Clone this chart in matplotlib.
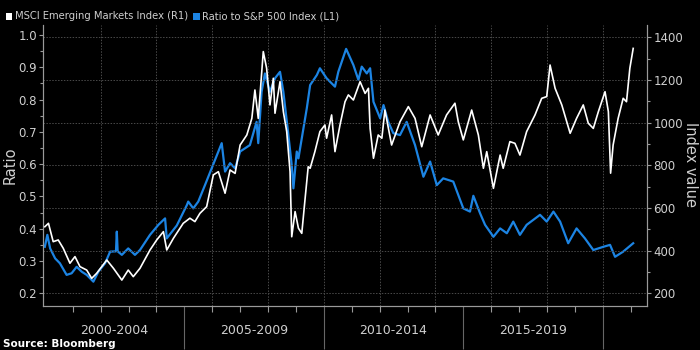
import numpy as np
import matplotlib
matplotlib.use('Agg')
import matplotlib.pyplot as plt
import matplotlib.transforms as mtransforms
from matplotlib.ticker import MultipleLocator, FormatStrFormatter

# ratio of MSCI EM to S&P 500 (left axis), decimal years
ratio_years = [2000.0, 2000.09, 2000.19, 2000.37, 2000.54, 2000.78, 2000.96, 2001.14, 2001.32, 2001.5,
               2001.74, 2001.92, 2002.16, 2002.34, 2002.55, 2002.58, 2002.61, 2002.76, 2002.99, 2003.23,
               2003.41, 2003.77, 2004.07, 2004.31, 2004.37, 2004.73, 2005.09, 2005.14, 2005.32, 2005.5,
               2005.74, 2006.1, 2006.34, 2006.46, 2006.64, 2006.82, 2007.0, 2007.35, 2007.59, 2007.65,
               2007.77, 2007.89, 2008.07, 2008.25, 2008.43, 2008.55, 2008.73, 2008.85, 2008.91, 2009.03,
               2009.09, 2009.27, 2009.39, 2009.51, 2009.75, 2009.86, 2010.1, 2010.4, 2010.52, 2010.8,
               2011.06, 2011.24, 2011.36, 2011.54, 2011.66, 2011.78, 2012.02, 2012.14, 2012.31, 2012.49,
               2012.73, 2012.97, 2013.27, 2013.57, 2013.81, 2014.05, 2014.28, 2014.64, 2015.0, 2015.24,
               2015.36, 2015.6, 2015.78, 2016.08, 2016.32, 2016.56, 2016.79, 2017.03, 2017.27, 2017.75,
               2017.99, 2018.23, 2018.47, 2018.76, 2019.06, 2019.36, 2019.66, 2020.02, 2020.26, 2020.44,
               2020.73, 2021.09]
ratio_vals = [0.344, 0.381, 0.339, 0.308, 0.293, 0.257, 0.262, 0.282, 0.267, 0.257,
              0.236, 0.267, 0.293, 0.329, 0.33, 0.391, 0.33, 0.319, 0.339, 0.319,
              0.334, 0.381, 0.412, 0.432, 0.37, 0.41, 0.473, 0.484, 0.463, 0.484,
              0.535, 0.613, 0.665, 0.577, 0.603, 0.587, 0.639, 0.659, 0.731, 0.665,
              0.824, 0.881, 0.824, 0.866, 0.886, 0.824, 0.69, 0.597, 0.525, 0.639,
              0.618, 0.711, 0.773, 0.845, 0.876, 0.897, 0.866, 0.84, 0.886, 0.957,
              0.907, 0.861, 0.902, 0.881, 0.897, 0.793, 0.742, 0.783, 0.731, 0.696,
              0.69, 0.731, 0.659, 0.561, 0.608, 0.535, 0.556, 0.546, 0.463, 0.453,
              0.502, 0.448, 0.412, 0.375, 0.401, 0.386, 0.422, 0.381, 0.412, 0.443,
              0.422, 0.453, 0.422, 0.355, 0.401, 0.37, 0.334, 0.344, 0.35, 0.313,
              0.329, 0.355]

# MSCI Emerging Markets Index level (right axis)
msci_years = [2000.0, 2000.13, 2000.3, 2000.48, 2000.66, 2000.9, 2001.08, 2001.26, 2001.5, 2001.68,
              2001.86, 2002.22, 2002.46, 2002.76, 2002.99, 2003.17, 2003.41, 2003.77, 2004.01, 2004.25,
              2004.37, 2004.61, 2004.96, 2005.2, 2005.38, 2005.56, 2005.8, 2006.04, 2006.22, 2006.46,
              2006.64, 2006.82, 2007.0, 2007.24, 2007.42, 2007.53, 2007.65, 2007.83, 2007.95, 2008.07,
              2008.19, 2008.25, 2008.43, 2008.55, 2008.67, 2008.79, 2008.85, 2008.97, 2009.09, 2009.21,
              2009.33, 2009.44, 2009.51, 2009.68, 2009.86, 2010.04, 2010.1, 2010.28, 2010.4, 2010.58,
              2010.76, 2010.88, 2011.06, 2011.3, 2011.48, 2011.6, 2011.66, 2011.78, 2011.95, 2012.08,
              2012.19, 2012.43, 2012.73, 2013.03, 2013.27, 2013.51, 2013.81, 2014.1, 2014.4, 2014.7,
              2014.82, 2015.0, 2015.3, 2015.54, 2015.72, 2015.84, 2016.08, 2016.2, 2016.32, 2016.43,
              2016.67, 2016.85, 2017.03, 2017.27, 2017.57, 2017.81, 2017.99, 2018.11, 2018.29, 2018.53,
              2018.83, 2019.06, 2019.3, 2019.48, 2019.66, 2019.84, 2020.08, 2020.2, 2020.28, 2020.37,
              2020.55, 2020.73, 2020.85, 2020.97, 2021.09]
msci_vals = [512, 528, 442, 450, 411, 341, 372, 325, 309, 270,
             294, 356, 317, 262, 309, 278, 317, 403, 450, 489,
             403, 458, 528, 552, 536, 575, 606, 755, 770, 669,
             778, 762, 895, 942, 1020, 1153, 1020, 1333, 1255, 1083,
             1208, 1044, 1192, 1051, 958, 770, 465, 583, 505, 481,
             645, 793, 786, 864, 958, 989, 927, 1036, 864, 989,
             1098, 1130, 1106, 1192, 1137, 1161, 973, 833, 942, 927,
             1059, 895, 1004, 1075, 1020, 887, 1036, 942, 1036, 1091,
             1004, 919, 1059, 942, 786, 864, 692, 770, 848, 786,
             911, 903, 848, 958, 1036, 1114, 1122, 1270, 1161, 1083,
             950, 1020, 1083, 997, 973, 1051, 1145, 1051, 763, 895,
             1020, 1114, 1098, 1255, 1348]

period_labels = ['2000-2004', '2005-2009', '2010-2014', '2015-2019']
period_starts = [2000, 2005, 2010, 2015]

BLUE = '#1c84e3'
TXT = '#cfcfcf'
GRID = '#4a4a4a'
SPINE = '#9a9a9a'

plt.rcParams['font.family'] = 'DejaVu Sans'

fig = plt.figure(figsize=(7, 3.5), dpi=100, facecolor='black')
ax = fig.add_axes([0.0619, 0.1266, 0.8628, 0.802])
ax2 = ax.twinx()
ax.set_facecolor('black')

ax.plot(ratio_years, ratio_vals, color=BLUE, lw=1.6, zorder=3)
ax2.plot(msci_years, msci_vals, color='white', lw=1.2, zorder=3)

ax.set_xlim(1999.946, 2021.595)
ax.set_ylim(0.1616, 1.031)
ax2.set_ylim(141.9, 1457.7)

ax.yaxis.set_major_locator(MultipleLocator(0.1))
ax.yaxis.set_minor_locator(MultipleLocator(0.05))
ax.yaxis.set_major_formatter(FormatStrFormatter('%.1f'))
ax2.yaxis.set_major_locator(MultipleLocator(200))
ax2.yaxis.set_minor_locator(MultipleLocator(100))

# bottom: separators every 5 years, small ticks each year
ax.set_xticks([2005, 2010, 2015, 2020])
ax.set_xticks(range(2001, 2022), minor=True)
ax.tick_params(axis='x', which='major', length=31, width=0.8, color='#666666', labelbottom=False)
ax.tick_params(axis='x', which='minor', length=4, width=0.8, color=SPINE)

for a in (ax, ax2):
    a.tick_params(axis='y', which='major', length=3, width=0.8, color=SPINE, labelcolor=TXT, labelsize=8.5, pad=1.5)
    a.tick_params(axis='y', which='minor', length=2, width=0.8, color=SPINE)
    a.spines['top'].set_visible(False)
    for side in ('left', 'right', 'bottom'):
        a.spines[side].set_color(SPINE)
        a.spines[side].set_linewidth(0.8)

# grid: dotted, horizontal at the right-axis ticks, vertical every 2 years
ax2.grid(axis='y', which='major', color=GRID, linestyle=(0, (1.5, 1.5)), lw=0.7)
for yr in range(2002, 2021, 2):
    ax.axvline(yr, color=GRID, linestyle=(0, (1.5, 1.5)), lw=0.7, zorder=0)

trans = mtransforms.blended_transform_factory(ax.transData, ax.transAxes)
for start, lab in zip(period_starts, period_labels):
    ax.text(start + 2.5, -0.087, lab, transform=trans, ha='center', va='center',
            color=TXT, fontsize=9)

fig.text(10 / 700, 1 - 165 / 350, 'Ratio', color=TXT, fontsize=10.5, rotation=90, ha='center', va='center')
fig.text(690 / 700, 1 - 165 / 350, 'Index value', color=TXT, fontsize=10.5, rotation=270, ha='center', va='center')

# legend
fig.patches.append(plt.Rectangle((0.008, 0.943), 0.0095, 0.019, transform=fig.transFigure,
                                 facecolor='white', edgecolor='none'))
fig.text(0.021, 0.953, 'MSCI Emerging Markets Index (R1)', color=TXT, fontsize=7.2, va='center')
fig.patches.append(plt.Rectangle((0.276, 0.943), 0.0095, 0.019, transform=fig.transFigure,
                                 facecolor=BLUE, edgecolor='none'))
fig.text(0.289, 0.953, 'Ratio to S&P 500 Index (L1)', color=TXT, fontsize=7.2, va='center')

fig.text(0.004, 0.018, 'Source: Bloomberg', color='white', fontsize=7.5, fontweight='bold', va='center')

fig.savefig('out.png', dpi=100, facecolor='black')
